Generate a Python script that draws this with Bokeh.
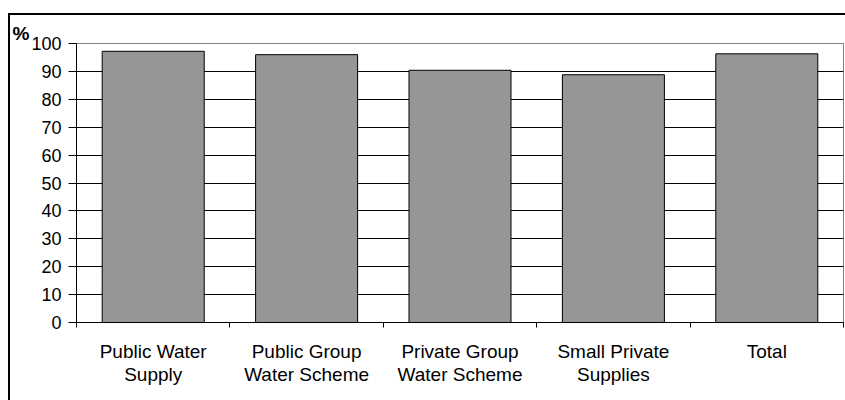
from bokeh.plotting import figure
from bokeh.models import Range1d, FixedTicker, Title, ColumnDataSource
from bokeh.embed import file_html
from bokeh.resources import INLINE

categories = ["Public Water Supply", "Public Group Water Scheme",
              "Private Group Water Scheme", "Small Private Supplies", "Total"]
tick_labels = ["Public Water\nSupply", "Public Group\nWater Scheme",
               "Private Group\nWater Scheme", "Small Private\nSupplies", "Total"]
values = [97.2, 96.0, 90.4, 88.8, 96.3]
y_ticks = [0, 10, 20, 30, 40, 50, 60, 70, 80, 90, 100]

FONT = "Liberation Sans"
n = len(categories)
centers = [i + 0.5 for i in range(n)]          # category slot centres
bounds = list(range(n + 1))                     # category slot boundaries

src = ColumnDataSource(dict(x=centers, top=values, name=categories))

p = figure(x_range=Range1d(0, n), y_range=Range1d(0, 100),
           frame_width=767, frame_height=279,
           min_border_left=66, min_border_right=2, min_border_top=28, min_border_bottom=78,
           output_backend="svg", toolbar_location=None)
p.styles = {"position": "relative", "top": "13px", "left": "8px",
            "border-left": "2px solid black", "border-top": "2px solid black"}
p.background_fill_color = "white"
p.border_fill_color = "white"
p.outline_line_color = "#808080"
p.outline_line_width = 1
p.xgrid.visible = False

# "%" unit marker at the top left
p.title = Title(text="%", align="left", offset=-64, standoff=0,
                text_font=FONT, text_font_size="19px", text_font_style="bold",
                text_color="black", vertical_align="bottom", text_line_height=0.8)

# bars
p.vbar(x="x", top="top", width=0.665, source=src, fill_color="#969696",
       line_color="black", line_width=1)

# y axis
p.yaxis.ticker = FixedTicker(ticks=y_ticks)
p.yaxis.major_tick_out = 8
p.yaxis.major_tick_in = 0
p.yaxis.minor_tick_line_color = None
p.yaxis.axis_line_color = "black"
p.yaxis.major_tick_line_color = "black"
p.yaxis.major_label_text_font = FONT
p.yaxis.major_label_text_font_size = "18px"
p.yaxis.major_label_text_color = "black"
p.yaxis.major_label_standoff = 7
p.ygrid.ticker = FixedTicker(ticks=y_ticks[:-1])
p.ygrid.grid_line_color = "black"
p.ygrid.grid_line_width = 1

# x axis: labels at centres, ticks at boundaries
xaxis = p.xaxis[0]
xaxis.ticker = FixedTicker(ticks=centers, minor_ticks=bounds)
xaxis.major_label_overrides = {c: lab for c, lab in zip(centers, tick_labels)}
xaxis.major_tick_line_color = None
xaxis.major_tick_out = 0
xaxis.major_tick_in = 0
xaxis.minor_tick_out = 5
xaxis.minor_tick_in = 0
xaxis.minor_tick_line_color = "black"
xaxis.axis_line_color = "black"
xaxis.major_label_text_font = FONT
xaxis.major_label_text_font_size = "19px"
xaxis.major_label_text_color = "black"
xaxis.major_label_text_line_height = 1.1
xaxis.major_label_standoff = 13

open("out.html", "w").write(file_html(p, INLINE))
